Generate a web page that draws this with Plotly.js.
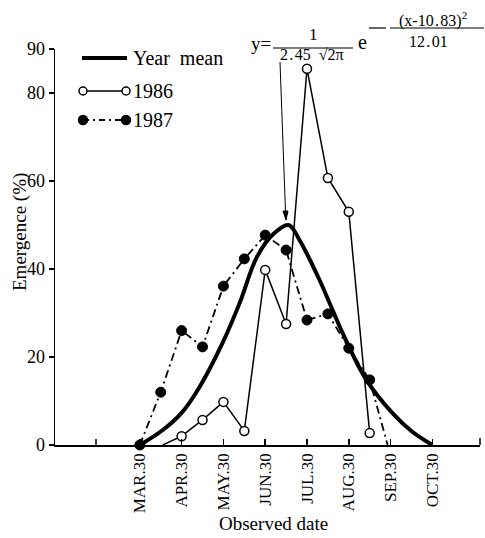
<!DOCTYPE html>
<html>
<head>
<meta charset="utf-8">
<script src="https://cdn.plot.ly/plotly-3.0.1.min.js"></script>
<style>html,body{margin:0;padding:0;background:#fff;}#chart{width:485px;height:538px;}</style>
</head>
<body>
<div id="chart"></div>
<script>
// ---- data (x = month index, 3 = MAR.30, half-month steps) ----
const tickVals   = [3, 4, 5, 6, 7, 8, 9, 10];
const tickLabels = ['MAR.30', 'APR.30', 'MAY.30', 'JUN.30', 'JUL.30', 'AUG.30', 'SEP.30', 'OCT.30'];

const meanX = [3.0, 3.55, 4.0, 4.43, 4.98, 5.39, 5.8, 6.2, 6.56, 6.82, 7.3, 7.85, 8.42, 9.04, 9.52, 10.0];
const meanY = [0, 3.4, 7.3, 13.2, 23.2, 32.3, 42.7, 48.0, 50.0, 46.6, 37.5, 25.5, 14.8, 7.3, 3.0, 0];

const x1986 = [3.55, 4.0, 4.5, 5.0, 5.5, 6.0, 6.5, 7.0, 7.5, 8.0, 8.5];
const y1986 = [0, 2.0, 5.7, 9.8, 3.2, 39.8, 27.5, 85.5, 60.7, 53.0, 2.7];

const x1987 = [3.0, 3.5, 4.0, 4.5, 5.0, 5.5, 6.0, 6.5, 7.0, 7.5, 8.0, 8.5, 8.93];
const y1987 = [0, 12.0, 26.0, 22.3, 36.1, 42.3, 47.7, 44.3, 28.4, 29.8, 22.0, 14.8, 0];

// ---- layout helpers (pixel -> paper) ----
const L = 55, T = 49, W = 425, H = 396;
const P = px => (px - L) / W;
const Q = py => (T + H - py) / H;
const FONT = "'Liberation Serif', 'Times New Roman', serif";

function line(x0, y0, x1, y1, w, dash) {
  return {type: 'line', xref: 'paper', yref: 'paper', x0: P(x0), y0: Q(y0), x1: P(x1), y1: Q(y1),
          line: {color: '#000', width: w, dash: dash || 'solid'}};
}
function dot(cx, cy, r, fill) {
  return {type: 'circle', xref: 'paper', yref: 'paper', xsizemode: 'pixel', ysizemode: 'pixel',
          xanchor: P(cx), yanchor: Q(cy), x0: -r, x1: r, y0: -r, y1: r,
          fillcolor: fill, line: {color: '#000', width: 1.5}};
}
function tri(pts) {
  const d = pts.map((p, i) => (i ? 'L' : 'M') + P(p[0]) + ',' + Q(p[1])).join(' ') + ' Z';
  return {type: 'path', xref: 'paper', yref: 'paper', path: d, fillcolor: '#000', line: {color: '#000', width: 1}};
}
function txt(text, px, py, size, xanchor, extra) {
  return Object.assign({text: text, xref: 'paper', yref: 'paper', x: P(px), y: Q(py),
          xanchor: xanchor || 'center', yanchor: 'middle', showarrow: false,
          font: {family: FONT, size: size, color: '#000'}}, extra || {});
}

const dashDot = '8px,4px,2px,4px';

const traces = [
  {x: meanX, y: meanY, mode: 'lines', line: {color: '#000', width: 4, shape: 'spline', smoothing: 1},
   cliponaxis: false, showlegend: false, hoverinfo: 'skip'},
  {x: x1987, y: y1987, mode: 'lines+markers', line: {color: '#000', width: 1.8, dash: dashDot},
   marker: {symbol: 'circle', color: '#000', opacity: 1,
            size: x1987.map((v, i) => i === x1987.length - 1 ? 0 : 10), line: {color: '#000', width: 1}},
   cliponaxis: false, showlegend: false},
  {x: x1986, y: y1986, mode: 'lines+markers', line: {color: '#000', width: 1.5},
   marker: {symbol: 'circle', color: '#fff', opacity: 1,
            size: x1986.map((v, i) => i === 0 ? 0 : 9), line: {color: '#000', width: 1.5}},
   cliponaxis: false, showlegend: false}
];

const shapes = [
  // legend samples
  line(82, 58, 127, 58, 4),
  line(83, 91, 126, 91, 1.5),
  dot(83, 91, 4, '#fff'), dot(126, 91, 4, '#fff'),
  line(83, 120, 126, 120, 1.8, '6px,4px,2px,4px'),
  dot(83, 120, 4.5, '#000'), dot(126, 120, 4.5, '#000'),
  // formula bars
  line(273, 48, 353, 48, 1.2),
  line(369, 28, 386, 28, 1.2),
  line(390, 28, 484, 28, 1.2),
  // arrow from formula to the mean curve peak
  line(280, 62, 285.5, 212, 1),
  tri([[283, 211], [288, 211], [286, 220]]),
  // unlabeled tick and right end tick of x axis
  line(96, 445, 96, 439, 1.5),
  line(480, 445, 480, 438, 1.5)
];

const annotations = [
  txt('Year\u00a0\u00a0mean', 131, 58, 20, 'left'),
  txt('1986', 131, 91, 20, 'left'),
  txt('1987', 131, 120, 20, 'left'),
  txt('Emergence (%)', 20, 232, 19, 'center', {textangle: -90}),
  txt('Observed date', 273, 523, 19, 'center'),
  // formula
  txt('y=', 273, 43, 19, 'right'),
  txt('1', 313, 34, 17, 'center'),
  txt('2\u200a.\u200a45\u2002\u221a2\u03c0', 312, 55, 16, 'center'),
  txt('e', 362, 42, 20, 'center'),
  txt('(x-10\u200a.\u200a83)<sup>2</sup>', 433, 19, 16, 'center'),
  txt('12\u200a.\u200a01', 428, 42, 16, 'center')
];

const layout = {
  width: 485, height: 538,
  margin: {l: L, r: 485 - L - W, t: T, b: 538 - T - H, pad: 0},
  paper_bgcolor: '#fff', plot_bgcolor: '#fff',
  font: {family: FONT, color: '#000'},
  showlegend: false,
  xaxis: {range: [0.97, 11.14], tickmode: 'array', tickvals: tickVals, ticktext: tickLabels,
          tickangle: -90, ticks: 'inside', ticklen: 6, tickwidth: 1.5, tickcolor: '#000',
          showline: true, linecolor: '#000', linewidth: 1.5, showgrid: false, zeroline: false,
          tickfont: {family: FONT, size: 17, color: '#000'}, automargin: false, fixedrange: true},
  yaxis: {range: [0, 90], tickmode: 'array', tickvals: [0, 20, 40, 60, 80, 90],
          ticks: 'outside', ticklen: 5, tickwidth: 1.5, tickcolor: '#000',
          showline: true, linecolor: '#000', linewidth: 1.5, showgrid: false, zeroline: false,
          tickfont: {family: FONT, size: 18, color: '#000'}, automargin: false, fixedrange: true},
  shapes: shapes,
  annotations: annotations
};

Plotly.newPlot('chart', traces, layout, {staticPlot: true, displayModeBar: false});
</script>
</body>
</html>
